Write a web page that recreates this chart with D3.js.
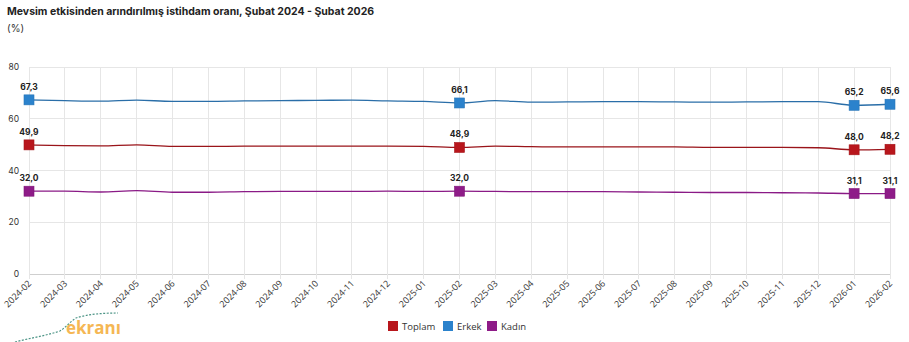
<!DOCTYPE html>
<html><head><meta charset="utf-8">
<script src="https://cdn.jsdelivr.net/npm/d3@7"></script>
<style>
html,body{margin:0;padding:0;background:#fff;}
svg{display:block;}
</style></head>
<body>
<script>
const months = ["2024-02","2024-03","2024-04","2024-05","2024-06","2024-07","2024-08","2024-09","2024-10","2024-11","2024-12","2025-01","2025-02","2025-03","2025-04","2025-05","2025-06","2025-07","2025-08","2025-09","2025-10","2025-11","2025-12","2026-01","2026-02"];
const toplam = [49.9,49.6,49.5,49.9,49.3,49.3,49.4,49.4,49.4,49.4,49.4,49.3,48.9,49.4,49.2,49.1,49.1,49.1,49.1,48.9,48.9,48.9,48.8,48.0,48.2];
const erkek  = [67.3,67.0,66.8,67.2,66.7,66.7,66.9,67.0,67.1,67.2,66.9,66.7,66.1,67.0,66.4,66.5,66.6,66.6,66.5,66.4,66.5,66.6,66.6,65.2,65.6];
const kadin  = [32.0,32.0,31.7,32.2,31.6,31.6,31.8,31.9,31.9,31.9,32.0,31.9,32.0,31.9,31.8,31.8,31.8,31.7,31.6,31.5,31.5,31.4,31.3,31.1,31.1];
const seriesNames = ["Toplam","Erkek","Kadın"];
const yTicks = [0,20,40,60,80];
const labelledIdx = [0,12,23,24];
const title = "Mevsim etkisinden arındırılmış istihdam oranı, Şubat 2024 - Şubat 2026";
const unit = "(%)";

const W = 909, H = 342;
const colors = {Toplam:"#b8161c", Erkek:"#2b82cc", Kadın:"#8e1b88"};
const lineColors = {Toplam:"#9a141a", Erkek:"#2a6ea8", Kadın:"#8a1a86"};
const series = [
  {name:"Toplam", values:toplam},
  {name:"Erkek", values:erkek},
  {name:"Kadın", values:kadin}
];

const svg = d3.select("body").append("svg").attr("width",W).attr("height",H)
  .style("font-family","Inter, 'Open Sans', sans-serif");

const x = d3.scalePoint().domain(months).range([29,890]);
const y = d3.scaleLinear().domain([0,80]).range([274,67]);

// title
svg.append("text").attr("x",7).attr("y",15).attr("font-size",10.5).attr("font-weight",700)
  .attr("fill","#222").text(title);
svg.append("text").attr("x",7).attr("y",32).attr("font-size",10).attr("fill","#333").text(unit);

// grid
const g = svg.append("g");
g.selectAll(".hg").data(yTicks).join("line")
  .attr("x1",29).attr("x2",890).attr("y1",d=>y(d)).attr("y2",d=>y(d))
  .attr("stroke",d=>d===0?"#cfcfcf":"#e6e6e6").attr("stroke-width",1).attr("shape-rendering","crispEdges");
g.selectAll(".vg").data(months).join("line")
  .attr("x1",d=>x(d)).attr("x2",d=>x(d)).attr("y1",y(80)).attr("y2",y(0)+5)
  .attr("stroke","#e6e6e6").attr("stroke-width",1).attr("shape-rendering","crispEdges");

// y labels
g.selectAll(".yl").data(yTicks).join("text")
  .attr("x",19).attr("y",d=>y(d)+3).attr("text-anchor","end")
  .attr("font-size",8.5).attr("fill","#333").text(d=>d);

// x labels
g.selectAll(".xl").data(months).join("text")
  .attr("text-anchor","end").attr("font-size",9).attr("fill","#333")
  .style("font-family","'Open Sans', sans-serif")
  .attr("transform",d=>`translate(${x(d)+3},${y(0)+10}) rotate(-45)`)
  .text(d=>d);

// lines
const line = d3.line().x((d,i)=>x(months[i])).y(d=>y(d)).curve(d3.curveMonotoneX);
series.forEach(s=>{
  svg.append("path").attr("d",line(s.values)).attr("fill","none")
    .attr("stroke",lineColors[s.name]).attr("stroke-width",1.3);
});

// markers & labels
series.forEach(s=>{
  const pts = labelledIdx.map(i=>({i, v:s.values[i]}));
  svg.selectAll(null).data(pts).join("rect")
    .attr("x",d=>x(months[d.i])-5).attr("y",d=>y(d.v)-5).attr("width",10).attr("height",10)
    .attr("fill",colors[s.name]).attr("stroke",d3.color(colors[s.name]).darker(0.3)).attr("stroke-width",0.6);
  svg.selectAll(null).data(pts).join("text")
    .attr("x",d=>x(months[d.i])).attr("y",d=>y(d.v)-10).attr("text-anchor","middle")
    .attr("font-size",8.5).attr("font-weight",700).attr("fill","#222")
    .text(d=>d.v.toFixed(1).replace(".",","));
});

// legend
const legendX = [388,443,487];
const lg = svg.append("g");
seriesNames.forEach((n,i)=>{
  lg.append("rect").attr("x",legendX[i]).attr("y",321).attr("width",10).attr("height",10).attr("fill",colors[n]);
  lg.append("text").attr("x",legendX[i]+14).attr("y",329.5).attr("font-size",9.5).attr("fill","#333")
    .style("font-family","'Open Sans', sans-serif").text(n);
});

// watermark logo
const wm = svg.append("g").attr("opacity",0.9);
wm.append("path").attr("d","M15,342 C30,338 45,336 60,331 C66,327 70,322 76,318 C88,314 104,313 118,313")
  .attr("fill","none").attr("stroke","#3a8a7a").attr("stroke-width",1.2).attr("stroke-dasharray","2,1.5");
wm.append("text").attr("x",66).attr("y",334).attr("font-size",17).attr("font-weight",700)
  .attr("fill","#f5b042").style("font-family","'Open Sans', sans-serif").text("ekranı");
</script>
</body></html>
